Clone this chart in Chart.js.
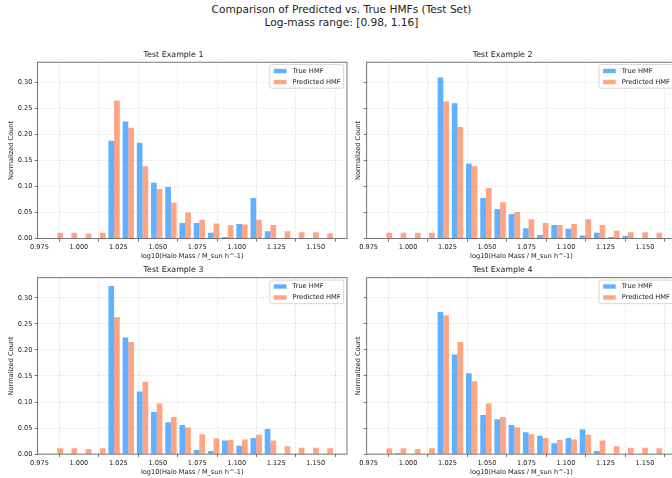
<!DOCTYPE html>
<html>
<head>
<meta charset="utf-8">
<script src="https://cdn.jsdelivr.net/npm/chart.js@4.4.0/dist/chart.umd.min.js"></script>
<style>
  html, body { margin: 0; padding: 0; background: #fff; }
  body { width: 672px; height: 478px; overflow: hidden; position: relative; font-family: "DejaVu Sans", sans-serif; }
  #suptitle { position: absolute; left: 0; top: 3px; width: 683px; text-align: center; font-size: 10.6px; line-height: 13.3px; color: #222; }
  canvas { position: absolute; }
</style>
</head>
<body>
<div id="suptitle">Comparison of Predicted vs. True HMFs (Test Set)<br>Log-mass range: [0.98, 1.16]</div>
<canvas id="c1"></canvas>
<canvas id="c2"></canvas>
<canvas id="c3"></canvas>
<canvas id="c4"></canvas>
<script>
// histogram bins (20 bins, 0.98 .. 1.16)
var binCenters = [0.9845, 0.9935, 1.0025, 1.0115, 1.0205, 1.0295, 1.0385, 1.0475, 1.0565, 1.0655,
                  1.0745, 1.0835, 1.0925, 1.1015, 1.1105, 1.1195, 1.1285, 1.1375, 1.1465, 1.1555];
var binWidth = 0.009;

var true1 = [0, 0, 0, 0, 0.188, 0.225, 0.184, 0.107, 0.099, 0.030, 0.030, 0.011, 0.003, 0.028, 0.078, 0.014, 0, 0, 0, 0];
var pred1 = [0.011, 0.011, 0.010, 0.011, 0.265, 0.213, 0.139, 0.095, 0.069, 0.050, 0.036, 0.029, 0.026, 0.027, 0.036, 0.026, 0.014, 0.012, 0.012, 0.010];
var true2 = [0, 0, 0, 0, 0.309, 0.260, 0.144, 0.078, 0.057, 0.047, 0.020, 0.007, 0.026, 0.019, 0.006, 0.011, 0.003, 0.005, 0, 0];
var pred2 = [0.011, 0.011, 0.011, 0.011, 0.263, 0.214, 0.139, 0.097, 0.070, 0.051, 0.037, 0.030, 0.026, 0.028, 0.037, 0.026, 0.015, 0.012, 0.012, 0.011];
var true3 = [0, 0, 0, 0, 0.3225, 0.224, 0.120, 0.081, 0.061, 0.056, 0.008, 0.006, 0.026, 0.016, 0.031, 0.048, 0, 0, 0, 0];
var pred3 = [0.011, 0.011, 0.010, 0.011, 0.263, 0.215, 0.139, 0.097, 0.071, 0.051, 0.038, 0.030, 0.027, 0.028, 0.037, 0.026, 0.015, 0.012, 0.012, 0.011];
var true4 = [0, 0.002, 0, 0, 0.273, 0.191, 0.155, 0.075, 0.067, 0.056, 0.042, 0.035, 0.021, 0.031, 0.047, 0.006, 0, 0, 0, 0];
var pred4 = [0.011, 0.011, 0.010, 0.011, 0.266, 0.215, 0.140, 0.097, 0.071, 0.051, 0.038, 0.031, 0.027, 0.028, 0.037, 0.026, 0.015, 0.012, 0.012, 0.011];

var xTicks = [0.975, 1.000, 1.025, 1.050, 1.075, 1.100, 1.125, 1.150];
var yTicks = [0, 0.05, 0.10, 0.15, 0.20, 0.25, 0.30];
var xLimits = [0.9738, 1.1698];
var yLimits = [0, 0.3386];

var TRUE_COLOR = 'rgba(30, 144, 255, 0.7)';
var PRED_COLOR = 'rgba(255, 127, 80, 0.7)';
var TEXT = '#222';
var FONT = '"DejaVu Sans", sans-serif';

// axes boxes in page pixels
var colLeft = [37.5, 366.7];
var rowTop = [62.2, 277.7];
var axW = 309.5, axH = 176.4;

// box frame on all four sides, like matplotlib spines
var frame = {
    id: 'frame',
    afterDatasetsDraw: function (chart) {
        var a = chart.chartArea, ctx = chart.ctx;
        ctx.save();
        ctx.strokeStyle = '#555';
        ctx.lineWidth = 0.8;
        ctx.strokeRect(a.left, a.top, a.right - a.left, a.bottom - a.top);
        ctx.restore();
    }
};

// legend drawn inside the plot, upper right
var insideLegend = {
    id: 'insideLegend',
    afterDraw: function (chart) {
        var a = chart.chartArea, ctx = chart.ctx;
        var sets = chart.data.datasets;
        ctx.save();
        ctx.font = '6.7px ' + FONT;
        var tw = Math.max.apply(null, sets.map(function (d) { return ctx.measureText(d.label).width; }));
        var w = 4 + 12.7 + 6 + tw + 3, h = 23.6;
        var x = a.right - 3.3 - w, y = a.top + 2.4;
        ctx.fillStyle = 'rgba(255,255,255,0.8)';
        ctx.strokeStyle = '#cccccc';
        ctx.lineWidth = 0.8;
        ctx.beginPath();
        ctx.roundRect(x, y, w, h, 2);
        ctx.fill();
        ctx.stroke();
        sets.forEach(function (d, i) {
            var cy = y + 6.4 + i * 11;
            ctx.fillStyle = d.backgroundColor;
            ctx.fillRect(x + 4, cy - 2.2, 12.7, 4.4);
            ctx.fillStyle = TEXT;
            ctx.textBaseline = 'middle';
            ctx.fillText(d.label, x + 22.7, cy);
        });
        ctx.restore();
    }
};

function makePanel(id, title, trueVals, predVals, col, row) {
    var cv = document.getElementById(id);
    var left = Math.floor(colLeft[col] - 37.5);
    var top = Math.floor(rowTop[row] - 15.2);
    var yW = colLeft[col] - left;
    var topOff = rowTop[row] - top;
    var width = Math.ceil(yW + axW + 8);
    var height = Math.ceil(topOff + axH + 26);
    var xH = height - topOff - axH;
    cv.style.left = left + 'px';
    cv.style.top = top + 'px';
    cv.width = width;
    cv.height = height;

    // group centred so the True bar sits on the bin centre and Predicted just right of it
    var shift = binWidth * 0.4 / 2;
    function pts(vals) {
        return vals.map(function (v, i) { return { x: binCenters[i] + shift, y: v }; });
    }

    new Chart(cv, {
        type: 'bar',
        data: {
            datasets: [
                { label: 'True HMF', data: pts(trueVals), backgroundColor: TRUE_COLOR, borderWidth: 0 },
                { label: 'Predicted HMF', data: pts(predVals), backgroundColor: PRED_COLOR, borderWidth: 0 }
            ]
        },
        options: {
            responsive: false,
            animation: false,
            events: [],
            categoryPercentage: 0.8,
            barPercentage: 1.0,
            layout: { padding: { left: 0, right: width - yW - axW, top: 0, bottom: 0 } },
            plugins: {
                legend: { display: false },
                tooltip: { enabled: false },
                title: {
                    display: true,
                    text: title,
                    color: TEXT,
                    font: { family: FONT, size: 7.9, weight: 'normal', lineHeight: 1.2 },
                    padding: { top: topOff - 9.48 - 2.7, bottom: 2.7 }
                }
            },
            scales: {
                x: {
                    type: 'linear',
                    min: xLimits[0],
                    max: xLimits[1],
                    offset: false,
                    afterBuildTicks: function (s) { s.ticks = xTicks.map(function (v) { return { value: v }; }); },
                    afterFit: function (s) { s.height = xH; },
                    ticks: {
                        color: TEXT,
                        font: { family: FONT, size: 6.6 },
                        padding: 2,
                        maxRotation: 0,
                        autoSkip: false,
                        callback: function (v) { return Number(v).toFixed(3); }
                    },
                    grid: { color: 'rgba(0,0,0,0.13)', lineWidth: 0.7, tickLength: 3, tickColor: '#555', tickWidth: 0.8 },
                    border: { display: false, dash: [2.5, 1.5] },
                    title: {
                        display: true,
                        text: 'log10(Halo Mass / M_sun h^-1)',
                        color: TEXT,
                        font: { family: FONT, size: 6.6, lineHeight: 1.2 },
                        padding: { top: 0, bottom: 4.5 }
                    }
                },
                y: {
                    min: yLimits[0],
                    max: yLimits[1],
                    afterBuildTicks: function (s) { s.ticks = yTicks.map(function (v) { return { value: v }; }); },
                    afterFit: function (s) { s.width = yW; },
                    ticks: {
                        color: TEXT,
                        font: { family: FONT, size: 6.6 },
                        padding: 2,
                        callback: function (v) { return col === 0 ? Number(v).toFixed(2) : ''; }
                    },
                    grid: { color: 'rgba(0,0,0,0.13)', lineWidth: 0.7, tickLength: 3, tickColor: '#555', tickWidth: 0.8 },
                    border: { display: false, dash: [2.5, 1.5] },
                    title: {
                        display: true,
                        text: 'Normalized Count',
                        color: TEXT,
                        font: { family: FONT, size: 6.6, lineHeight: 1.2 },
                        padding: { top: col === 0 ? 7.3 : yW - 8.7 - 3.96, bottom: 0 }
                    }
                }
            }
        },
        plugins: [frame, insideLegend]
    });
}

makePanel('c1', 'Test Example 1', true1, pred1, 0, 0);
makePanel('c2', 'Test Example 2', true2, pred2, 1, 0);
makePanel('c3', 'Test Example 3', true3, pred3, 0, 1);
makePanel('c4', 'Test Example 4', true4, pred4, 1, 1);
</script>
</body>
</html>
